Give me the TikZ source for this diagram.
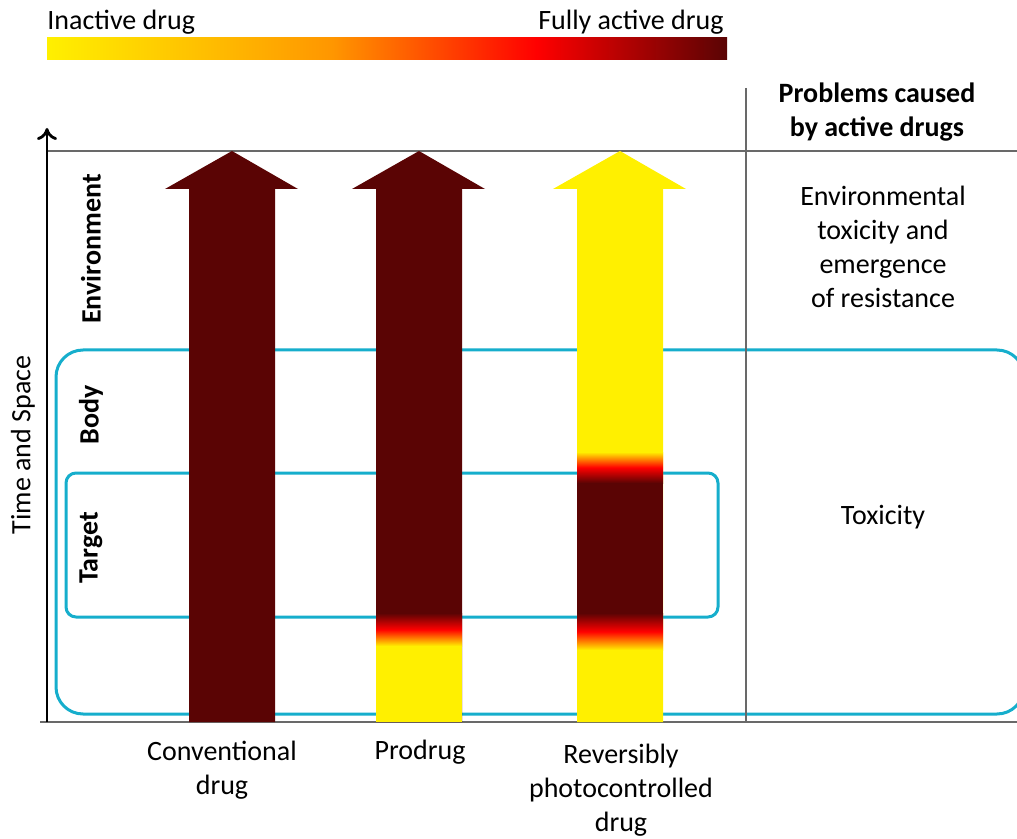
\documentclass[tikz,border=0pt]{standalone}
\usepackage{fontspec}
\setmainfont{Carlito}
\usetikzlibrary{
    arrows.meta,
    positioning
}
\definecolor{drugdark}{RGB}{90,4,4}
\definecolor{drugyellow}{RGB}{255,240,0}
\definecolor{drugorange}{RGB}{255,150,0}
\definecolor{drugred}{RGB}{255,0,0}
\definecolor{boxcyan}{RGB}{22,174,204}
\definecolor{axisgray}{RGB}{105,105,105}
\pgfdeclarehorizontalshading{activity}{100bp}{
    color(0bp)=(drugyellow); color(25bp)=(drugyellow);
    color(46bp)=(drugorange); color(61bp)=(drugred);
    color(75bp)=(drugdark); color(100bp)=(drugdark)}
\tikzset{
    lbl/.style={font=\fontsize{14}{17}\selectfont, align=center, inner sep=0pt},
    bold lbl/.style={lbl, font=\fontsize{14}{17}\selectfont\bfseries},
    side lbl/.style={bold lbl, rotate=90},
    region/.style={draw=boxcyan, line width=1.5pt},
    switch off/.style={top color=drugdark, bottom color=drugyellow, middle color=drugred},
    switch on/.style={top color=drugyellow, bottom color=drugdark, middle color=drugred}
}

\begin{document}
\begin{tikzpicture}[x=0.5pt, y=-0.5pt]
    \clip (0, 0) rectangle (1017, 839);
    \coordinate (origin) at (47, 722);
    \coordinate (ytip) at (47, 128);
    \coordinate (xend) at (1017, 722);
    \coordinate (xstart) at (40, 722);
    \coordinate (topleft) at (47, 151);
    \coordinate (topright) at (1017, 151);
    \coordinate (septop) at (746, 88);
    \coordinate (sepbottom) at (746, 722);

    \shade[shading=activity] (47, 38) rectangle (727, 60);
    \node[lbl, anchor=base west] (inactive) at (47, 30) {Inactive drug};
    \node[lbl, anchor=base east] (active) at (724, 30) {Fully active drug};

    \draw[region, rounded corners=13.5pt] (56, 350) rectangle (1024, 714);
    \draw[region, rounded corners=5pt] (66, 473) rectangle (718, 617);

    \draw[axisgray, line width=0.75pt]
    (xstart) -- (xend)
    (topleft) -- (topright)
    (septop) -- (sepbottom);
    \draw[line width=1.4pt, -{To[length=6pt, width=10pt]}] (origin) -- (ytip);

    \begin{scope}[shift={(232, 0)}]
        \fill[drugdark] (-43, 722) -- (-43, 189) -- (-67, 189) -- (0, 151) -- (66, 189) -- (43, 189) -- (43, 722) -- cycle;
    \end{scope}
    \begin{scope}[shift={(419, 0)}]
        \fill[drugdark] (-43, 722) -- (-43, 189) -- (-67, 189) -- (0, 151) -- (66, 189) -- (43, 189) -- (43, 722) -- cycle;
        \fill[drugyellow] (-43, 645) rectangle (43, 722);
        \shade[switch off] (-43, 613) rectangle (43, 646);
    \end{scope}
    \begin{scope}[shift={(620, 0)}]
        \fill[drugyellow] (-43, 722) -- (-43, 189) -- (-67, 189) -- (0, 151) -- (66, 189) -- (43, 189) -- (43, 722) -- cycle;
        \fill[drugdark] (-43, 482) rectangle (43, 614);
        \shade[switch on] (-43, 452) rectangle (43, 483);
        \shade[switch off] (-43, 613) rectangle (43, 650);
    \end{scope}

    \node[side lbl] (environment) at (91, 249) {Environment};
    \node[side lbl] (body) at (91, 415) {Body};
    \node[side lbl] (target) at (91, 548) {Target};
    \node[lbl, rotate=90] (timespace) at (23, 445) {Time and Space};

    \node[lbl] (conventional) at (222, 770) {Conventional\\drug};
    \node[lbl] (prodrug) at (420, 752) {Prodrug};
    \node[lbl] (reversible) at (621, 790) {Reversibly\\photocontrolled\\drug};

    \node[bold lbl] (problems) at (877, 112) {Problems caused\\by active drugs};
    \node[lbl] (envtox) at (883, 247) {Environmental\\toxicity and\\emergence\\of resistance};
    \node[lbl] (toxicity) at (883, 517) {Toxicity};
\end{tikzpicture}
\end{document}
